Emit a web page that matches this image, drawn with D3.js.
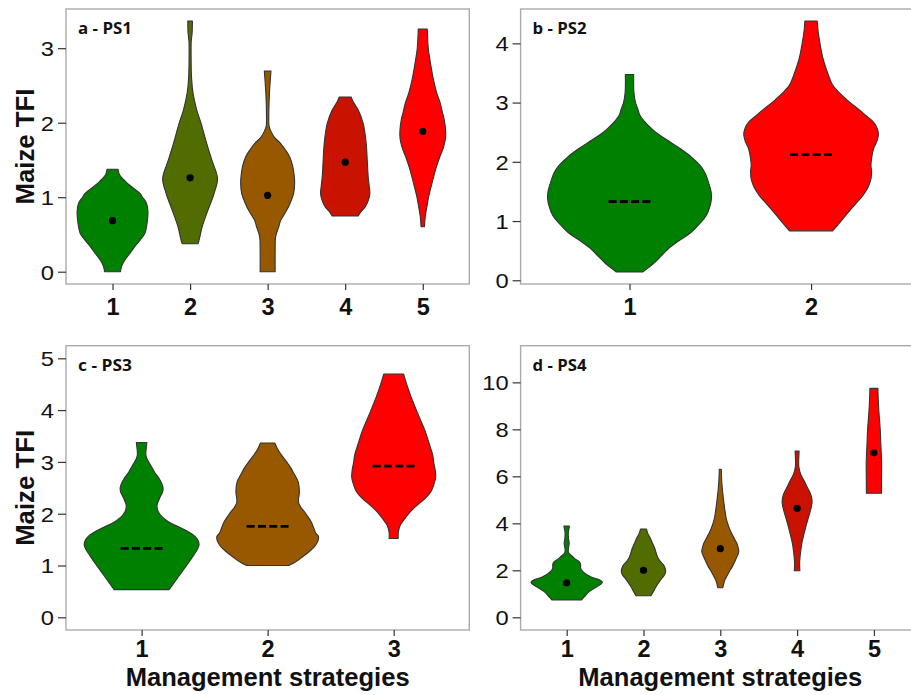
<!DOCTYPE html>
<html>
<head>
<meta charset="utf-8">
<script src="https://cdn.jsdelivr.net/npm/d3@7"></script>
<style>
  html, body { margin: 0; padding: 0; background: #fff; }
  svg { display: block; }
</style>
</head>
<body>
<svg id="chart" width="911" height="695"></svg>
<script>
// ---- data ---------------------------------------------------------------
// Violin outlines: [TFI value, half-width as a fraction of the category step]
const strategiesPS1 = ["1", "2", "3", "4", "5"];
const violinsPS1 = [
  [[0,0.103],[0.07,0.116],[0.15,0.155],[0.25,0.226],[0.35,0.296],[0.43,0.361],[0.52,0.419],[0.6,0.438],[0.7,0.451],[0.8,0.457],[0.92,0.438],[1.0,0.387],[1.05,0.354],[1.13,0.258],[1.21,0.168],[1.3,0.09],[1.375,0.071]],
  [[0.376,0.103],[0.45,0.122],[0.6,0.155],[0.83,0.232],[1.05,0.309],[1.25,0.354],[1.5,0.28],[1.72,0.215],[1.99,0.142],[2.17,0.086],[2.39,0.039],[2.6,0.019],[2.9,0.013],[3.1,0.015],[3.2,0.026],[3.365,0.03]],
  [[0,0.097],[0.3,0.097],[0.47,0.103],[0.6,0.142],[0.69,0.168],[0.8,0.232],[0.92,0.29],[1.05,0.335],[1.19,0.348],[1.3,0.341],[1.42,0.322],[1.54,0.284],[1.63,0.232],[1.72,0.168],[1.8,0.09],[1.88,0.045],[1.95,0.019],[2.1,0.015],[2.39,0.023],[2.6,0.036],[2.694,0.043]],
  [[0.748,0.168],[0.8,0.2],[0.87,0.258],[0.95,0.296],[1.05,0.318],[1.15,0.309],[1.28,0.296],[1.5,0.284],[1.72,0.271],[1.99,0.232],[2.17,0.168],[2.28,0.103],[2.345,0.077]],
  [[0.604,0.022],[0.74,0.032],[0.9,0.058],[1.01,0.077],[1.15,0.11],[1.28,0.142],[1.4,0.174],[1.54,0.219],[1.66,0.264],[1.79,0.293],[1.9,0.294],[2.04,0.277],[2.15,0.251],[2.26,0.226],[2.4,0.18],[2.57,0.139],[2.7,0.116],[2.84,0.093],[3.0,0.071],[3.258,0.058]]
];
const mediansPS1 = [0.685, 1.26, 1.025, 1.47, 1.885];
const yTicksPS1 = [0, 1, 2, 3];

const strategiesPS2 = ["1", "2"];
const violinsPS2 = [
  [[0.14,0.073],[0.2,0.099],[0.3,0.138],[0.4,0.171],[0.52,0.209],[0.65,0.264],[0.81,0.34],[0.95,0.385],[1.09,0.422],[1.25,0.443],[1.37,0.451],[1.5,0.449],[1.65,0.435],[1.8,0.418],[1.93,0.391],[2.08,0.341],[2.22,0.281],[2.33,0.226],[2.44,0.171],[2.53,0.132],[2.61,0.105],[2.7,0.077],[2.8,0.055],[2.89,0.046],[3.0,0.033],[3.18,0.024],[3.474,0.023]],
  [[0.834,0.119],[0.92,0.143],[1.0,0.165],[1.15,0.206],[1.3,0.248],[1.43,0.285],[1.57,0.314],[1.71,0.33],[1.85,0.333],[1.93,0.33],[2.05,0.333],[2.22,0.344],[2.35,0.363],[2.47,0.371],[2.57,0.363],[2.67,0.344],[2.78,0.303],[2.89,0.261],[3.03,0.204],[3.18,0.151],[3.3,0.118],[3.46,0.096],[3.74,0.066],[4.02,0.048],[4.2,0.039],[4.377,0.034]]
];
const mediansPS2 = [1.33, 2.12];
const yTicksPS2 = [0, 1, 2, 3, 4];

const strategiesPS3 = ["1", "2", "3"];
const violinsPS3 = [
  [[0.535,0.218],[0.75,0.282],[1.0,0.357],[1.2,0.413],[1.32,0.444],[1.4,0.456],[1.5,0.444],[1.59,0.41],[1.7,0.333],[1.78,0.262],[1.87,0.198],[1.97,0.151],[2.07,0.127],[2.17,0.123],[2.3,0.143],[2.42,0.167],[2.52,0.169],[2.68,0.139],[2.8,0.103],[2.94,0.071],[3.05,0.044],[3.13,0.034],[3.25,0.036],[3.375,0.042]],
  [[1.0,0.167],[1.07,0.222],[1.17,0.278],[1.27,0.331],[1.37,0.373],[1.46,0.397],[1.56,0.403],[1.62,0.383],[1.73,0.365],[1.85,0.344],[1.95,0.317],[2.04,0.291],[2.13,0.262],[2.23,0.244],[2.42,0.252],[2.62,0.242],[2.75,0.214],[2.88,0.185],[3.0,0.151],[3.13,0.11],[3.25,0.079],[3.365,0.057]],
  [[1.52,0.036],[1.65,0.037],[1.78,0.053],[1.9,0.087],[2.04,0.133],[2.17,0.19],[2.3,0.252],[2.42,0.294],[2.55,0.317],[2.7,0.333],[2.85,0.329],[3.0,0.317],[3.13,0.31],[3.35,0.282],[3.58,0.252],[3.78,0.218],[3.97,0.185],[4.15,0.155],[4.29,0.133],[4.5,0.103],[4.696,0.079]]
];
const mediansPS3 = [1.33, 1.757, 2.92];
const yTicksPS3 = [0, 1, 2, 3, 4, 5];

const strategiesPS4 = ["1", "2", "3", "4", "5"];
const violinsPS4 = [
  [[0.736,0.191],[0.88,0.232],[1.09,0.293],[1.3,0.391],[1.42,0.45],[1.5,0.465],[1.59,0.43],[1.7,0.326],[1.8,0.271],[1.95,0.208],[2.09,0.182],[2.25,0.182],[2.37,0.163],[2.5,0.104],[2.65,0.055],[2.75,0.026],[2.86,0.02],[3.0,0.026],[3.15,0.033],[3.3,0.026],[3.43,0.022],[3.64,0.022],[3.75,0.029],[3.885,0.036]],
  [[0.92,0.098],[1.1,0.13],[1.3,0.163],[1.5,0.202],[1.66,0.238],[1.8,0.273],[1.94,0.289],[2.1,0.28],[2.23,0.26],[2.37,0.221],[2.51,0.191],[2.7,0.169],[2.94,0.146],[3.15,0.117],[3.36,0.091],[3.55,0.059],[3.757,0.039]],
  [[1.26,0.033],[1.45,0.046],[1.59,0.059],[1.75,0.085],[1.94,0.117],[2.2,0.163],[2.51,0.208],[2.79,0.241],[2.94,0.234],[3.15,0.215],[3.36,0.182],[3.6,0.143],[3.93,0.102],[4.2,0.078],[4.49,0.063],[4.85,0.048],[5.2,0.035],[5.6,0.023],[5.91,0.017],[6.3,0.013]],
  [[1.98,0.036],[2.2,0.033],[2.4,0.034],[2.79,0.046],[3.1,0.059],[3.36,0.076],[3.65,0.098],[3.93,0.12],[4.2,0.143],[4.49,0.169],[4.75,0.189],[4.95,0.195],[5.15,0.185],[5.34,0.163],[5.55,0.13],[5.77,0.098],[6.0,0.059],[6.2,0.036],[6.4,0.023],[6.62,0.02],[6.85,0.023],[7.08,0.026]],
  [[5.28,0.098],[5.9,0.099],[6.6,0.1],[7.3,0.091],[8.0,0.082],[8.75,0.065],[9.3,0.056],[9.745,0.052]]
];
const mediansPS4 = [1.47, 2.0, 2.92, 4.64, 7.0];
const yTicksPS4 = [0, 2, 4, 6, 8, 10];

const panelTags = ["a - PS1", "b - PS2", "c - PS3", "d - PS4"];
const yTitle = "Maize TFI";
const xTitle = "Management strategies";

// ---- styling -----------------------------------------------------------
const fiveColours = ["#008000", "#516c00", "#975800", "#c91300", "#ff0000"];
const threeColours = ["#008000", "#975800", "#ff0000"];
const twoColours = ["#008000", "#ff0000"];

const svg = d3.select("#chart");

const panels = [
  { tag: panelTags[0], cats: strategiesPS1, violins: violinsPS1, medians: mediansPS1, ticks: yTicksPS1,
    yDomain: [-0.165, 3.526], colours: fiveColours, marker: "dot",
    box: { left: 66, right: 469.3, top: 9, bottom: 284 }, yTitle: true, xTitle: false },
  { tag: panelTags[1], cats: strategiesPS2, violins: violinsPS2, medians: mediansPS2, ticks: yTicksPS2,
    yDomain: [-0.063, 4.58], colours: twoColours, marker: "dash",
    box: { left: 520.6, right: 920, top: 9, bottom: 284 }, yTitle: false, xTitle: false },
  { tag: panelTags[2], cats: strategiesPS3, violins: violinsPS3, medians: mediansPS3, ticks: yTicksPS3,
    yDomain: [-0.245, 5.243], colours: threeColours, marker: "dash",
    box: { left: 66, right: 469.3, top: 345.7, bottom: 630 }, yTitle: true, xTitle: true },
  { tag: panelTags[3], cats: strategiesPS4, violins: violinsPS4, medians: mediansPS4, ticks: yTicksPS4,
    yDomain: [-0.54, 11.56], colours: fiveColours, marker: "dot",
    box: { left: 520.6, right: 920, top: 345.7, bottom: 630 }, yTitle: false, xTitle: true }
];

const frameColour = "#ababab";
const inkColour = "#333333";

panels.forEach(p => {
  const b = p.box;
  const g = svg.append("g");

  const x = d3.scalePoint().domain(p.cats).range([b.left, b.right]).padding(0.6);
  const y = d3.scaleLinear().domain(p.yDomain).range([b.bottom, b.top]);
  const w = d3.scaleLinear().domain([0, 1]).range([0, x.step()]);

  // panel background
  g.append("rect")
    .attr("x", b.left).attr("y", b.top)
    .attr("width", b.right - b.left).attr("height", b.bottom - b.top)
    .attr("fill", "#ffffff");

  // violins
  p.violins.forEach((outline, i) => {
    const cx = x(p.cats[i]);
    const area = d3.area()
      .curve(d3.curveCatmullRom.alpha(0.5))
      .y(d => y(d[0]))
      .x0(d => cx - w(d[1]))
      .x1(d => cx + w(d[1]));
    g.append("path")
      .attr("d", area(outline))
      .attr("fill", p.colours[i])
      .attr("stroke", inkColour)
      .attr("stroke-width", 1.1)
      .attr("stroke-linejoin", "round");
  });

  // medians
  p.medians.forEach((m, i) => {
    const cx = x(p.cats[i]);
    if (p.marker === "dot") {
      g.append("circle")
        .attr("cx", cx).attr("cy", y(m)).attr("r", 3.6)
        .attr("fill", "#000");
    } else {
      g.append("line")
        .attr("x1", cx - 21).attr("x2", cx + 21)
        .attr("y1", y(m)).attr("y2", y(m))
        .attr("stroke", "#000")
        .attr("stroke-width", 2.8)
        .attr("stroke-dasharray", "8,3.3");
    }
  });

  // panel border
  g.append("rect")
    .attr("x", b.left).attr("y", b.top)
    .attr("width", b.right - b.left).attr("height", b.bottom - b.top)
    .attr("fill", "none")
    .attr("stroke", frameColour)
    .attr("stroke-width", 1.4);

  // panel tag
  g.append("text")
    .attr("x", b.left + 12).attr("y", b.top + 25)
    .attr("font-family", "'Open Sans', 'Noto Sans', sans-serif")
    .attr("font-weight", 700)
    .attr("font-size", 15.5)
    .attr("textLength", 54)
    .attr("lengthAdjust", "spacingAndGlyphs")
    .attr("fill", "#111")
    .text(p.tag);

  // y axis
  const yAxis = g.append("g")
    .attr("transform", `translate(${b.left},0)`)
    .call(d3.axisLeft(y).tickValues(p.ticks).tickSize(8).tickFormat(d3.format("d")));
  yAxis.select(".domain").remove();
  yAxis.selectAll(".tick line").attr("stroke", inkColour).attr("stroke-width", 1.2);
  yAxis.selectAll(".tick text")
    .attr("x", -12 / 1.13)
    .attr("dy", "0.35em")
    .attr("transform", "scale(1.13,1)")
    .attr("font-family", "'Liberation Sans', Arial, sans-serif")
    .attr("font-size", 21)
    .attr("fill", "#111");

  // x axis
  const xAxis = g.append("g")
    .attr("transform", `translate(0,${b.bottom})`)
    .call(d3.axisBottom(x).tickSize(6));
  xAxis.select(".domain").remove();
  xAxis.selectAll(".tick line").attr("stroke", inkColour).attr("stroke-width", 1.2);
  xAxis.selectAll(".tick text")
    .attr("y", p.xTitle ? 27 : 30.5)
    .attr("dy", null)
    .attr("font-family", "'Liberation Sans', Arial, sans-serif")
    .attr("font-weight", 700)
    .attr("font-size", 23.5)
    .attr("fill", "#111");

  // axis titles
  if (p.yTitle) {
    const cy = (b.top + b.bottom) / 2;
    g.append("text")
      .attr("transform", `translate(33.5,${cy}) rotate(-90)`)
      .attr("text-anchor", "middle")
      .attr("font-family", "'Liberation Sans', Arial, sans-serif")
      .attr("font-weight", 700)
      .attr("font-size", 26)
      .attr("textLength", 116)
      .attr("lengthAdjust", "spacingAndGlyphs")
      .attr("fill", "#111")
      .text(yTitle);
  }
  if (p.xTitle) {
    g.append("text")
      .attr("x", (b.left + b.right) / 2)
      .attr("y", 686)
      .attr("text-anchor", "middle")
      .attr("font-family", "'Liberation Sans', Arial, sans-serif")
      .attr("font-weight", 700)
      .attr("font-size", 26)
      .attr("textLength", 284)
      .attr("lengthAdjust", "spacingAndGlyphs")
      .attr("fill", "#111")
      .text(xTitle);
  }
});
</script>
</body>
</html>
